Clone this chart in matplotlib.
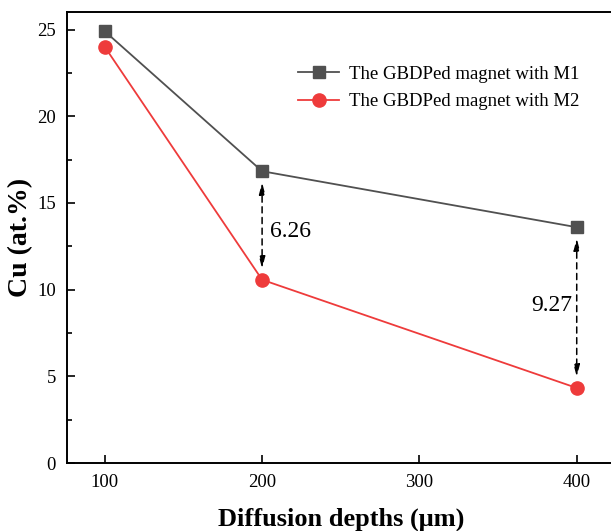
import matplotlib
matplotlib.use("Agg")
import matplotlib.pyplot as plt

plt.rcParams['font.family'] = ['Liberation Serif', 'DejaVu Serif']
plt.rcParams['mathtext.fontset'] = 'stix'

# Cu content vs diffusion depth
depths = [100, 200, 400]
cu_m1 = [24.9, 16.83, 13.6]
cu_m2 = [24.0, 10.57, 4.33]
gap_labels = ['6.26', '9.27']

fig = plt.figure(figsize=(6.11, 5.31), dpi=100)
ax = fig.add_axes([0.1097, 0.128, 0.896, 0.849])

ax.plot(depths, cu_m1, color='#505050', lw=1.3, marker='s', ms=8,
        label='The GBDPed magnet with M1')
ax.plot(depths, cu_m2, color='#ee3b3b', lw=1.3, marker='o', ms=9.5,
        label='The GBDPed magnet with M2')

# double headed dashed arrows between the two curves
for i in (1, 2):
    ax.annotate('', xy=(depths[i], cu_m2[i]), xytext=(depths[i], cu_m1[i]),
                arrowprops=dict(arrowstyle='<|-|>,head_length=0.7,head_width=0.18',
                                color='black', lw=1.1, linestyle=(0, (4, 3)),
                                shrinkA=8, shrinkB=8))
ax.text(205, 13.35, gap_labels[0], fontsize=17, ha='left', va='center')
ax.text(397, 9.1, gap_labels[1], fontsize=17, ha='right', va='center')

ax.set_xlim(76, 424)
ax.set_ylim(0, 26)
ax.set_xticks([100, 200, 300, 400])
ax.set_yticks([0, 5, 10, 15, 20, 25])
ax.set_yticks([2.5, 7.5, 12.5, 17.5, 22.5], minor=True)
ax.tick_params(axis='both', which='major', direction='in', length=6, width=1.2,
               labelsize=13.5, pad=8)
ax.tick_params(axis='y', which='minor', direction='in', length=3.5, width=1.2)
for sp in ax.spines.values():
    sp.set_linewidth(1.4)

ax.set_xlabel('Diffusion depths (μm)', fontsize=19, fontweight='bold', labelpad=12)
ax.set_ylabel('Cu (at.%)', fontsize=20, fontweight='bold', labelpad=3)

ax.legend(loc='upper left', bbox_to_anchor=(0.391, 0.919), frameon=False,
          fontsize=13.5, handlelength=2.2, handletextpad=0.5, labelspacing=0.55)

fig.savefig('out.png', dpi=100)
